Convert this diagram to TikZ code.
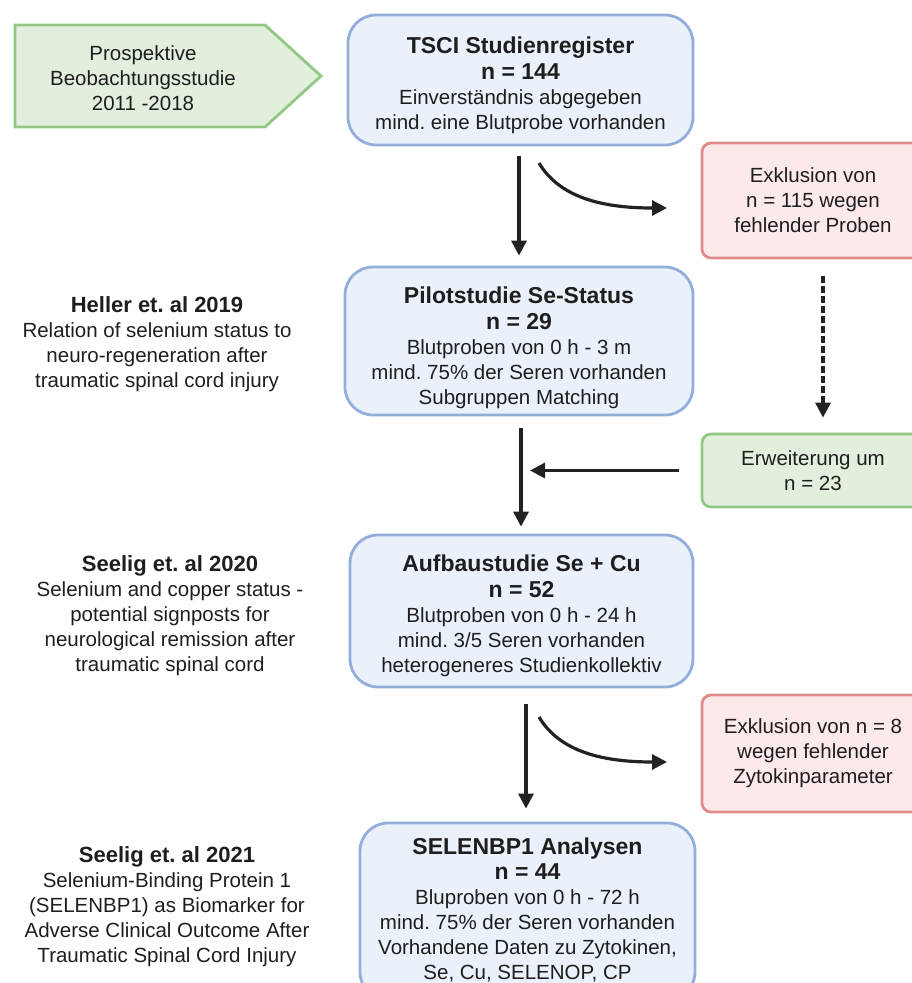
\documentclass[tikz,border=0pt]{standalone}
\usepackage{fontspec}
\setmainfont{Liberation Sans}
\usetikzlibrary{arrows.meta}
\frenchspacing
\definecolor{tc}{HTML}{1E1E1E}
\definecolor{bf}{HTML}{EAF1FB}
\definecolor{bb}{HTML}{94AEDB}
\definecolor{rf}{HTML}{FCE9EA}
\definecolor{rb}{HTML}{E38A8A}
\definecolor{gf}{HTML}{E3EFDD}
\definecolor{gb}{HTML}{93C884}
\definecolor{ac}{HTML}{222222}
\newcommand\Bt[1]{{\fontsize{23}{25}\selectfont\bfseries #1}}
\newcommand\Bl[1]{{\fontsize{22}{25}\selectfont\bfseries #1}}
\tikzset{
  txt/.style={font=\fontsize{20.5}{25}\selectfont\frenchspacing, text=tc, align=center, inner sep=0pt},
  bluebox/.style={draw=bb, fill=bf, line width=2.8pt, rounded corners=28pt},
  redbox/.style={draw=rb, fill=rf, line width=2.8pt, rounded corners=9pt},
  greenbox/.style={draw=gb, fill=gf, line width=2.8pt, rounded corners=9pt},
  arr/.style={draw=ac, line width=3.2pt, -{Triangle[width=15pt,length=15pt]}},
  dotarr/.style={arr, dash pattern=on 6.5pt off 3.5pt},
}
\begin{document}
\begin{tikzpicture}[x=1pt,y=-1pt]
\useasboundingbox (0,0) rectangle (912,983);
\clip (0,0) rectangle (912,983);

% green pentagon
\draw[draw=gb, fill=gf, line width=2.8pt, line join=miter]
  (15,25) -- (265,25) -- (321,76) -- (265,127) -- (15,127) -- cycle;
\node[txt] (prosp) at (143,78) {Prospektive\\Beobachtungsstudie\\2011 -2018};

% main boxes
\node[bluebox, minimum width=345pt, minimum height=130pt] (tsci) at (520.5,80) {};
\node[txt] (tscit) at ([yshift=-5pt]tsci.center)
  {\Bt{TSCI Studienregister}\\[1pt]\Bt{n = 144}\\Einverständnis abgegeben\\mind. eine Blutprobe vorhanden};
\node[bluebox, minimum width=348pt, minimum height=148pt] (pilot) at (519,341) {};
\node[txt] (pilott) at ([yshift=-7pt]pilot.center)
  {\Bt{Pilotstudie Se-Status}\\[1pt]\Bt{n = 29}\\Blutproben von 0 h - 3 m\\mind. 75\% der Seren vorhanden\\Subgruppen Matching};
\node[bluebox, minimum width=343pt, minimum height=152pt] (aufbau) at (521.5,611) {};
\node[txt] (aufbaut) at ([yshift=-5pt]aufbau.center)
  {\Bt{Aufbaustudie Se + Cu}\\[1pt]\Bt{n = 52}\\Blutproben von 0 h - 24 h\\mind. 3/5 Seren vorhanden\\heterogeneres Studienkollektiv};
\node[bluebox, minimum width=335pt, minimum height=177pt] (selen) at (527.5,911.5) {};
\node[txt] (selent) at ([yshift=2pt]selen.center)
  {\Bt{SELENBP1 Analysen}\\[0pt]\Bt{n = 44}\\Bluproben von 0 h - 72 h\\mind. 75\% der Seren vorhanden\\Vorhandene Daten zu Zytokinen,\\Se, Cu, SELENOP, CP};

% side boxes
\node[redbox, txt, minimum width=222pt, minimum height=115pt] (ex1) at (813,200.5)
  {Exklusion von\\n = 115 wegen\\fehlender Proben};
\node[greenbox, txt, minimum width=222pt, minimum height=73pt] (erw) at (813,470.5)
  {Erweiterung um\\n = 23};
\node[redbox, txt, minimum width=222pt, minimum height=117pt] (ex2) at (813,753.5)
  {Exklusion von n = 8\\wegen fehlender\\Zytokinparameter};

% left texts
\node[txt] (heller) at (157,344)
  {\Bl{Heller et. al 2019}\\Relation of selenium status to\\neuro-regeneration after\\traumatic spinal cord injury};
\node[txt] (seelig20) at (170,616)
  {\Bl{Seelig et. al 2020}\\Selenium and copper status -\\potential signposts for\\neurological remission after\\traumatic spinal cord};
\node[txt] (seelig21) at (167,907)
  {\Bl{Seelig et. al 2021}\\Selenium-Binding Protein 1\\(SELENBP1) as Biomarker for\\Adverse Clinical Outcome After\\Traumatic Spinal Cord Injury};

% connectors
\coordinate (c1s) at (539,163);
\coordinate (c1e) at (667,208);
\coordinate (c2s) at (539,717);
\coordinate (c2e) at (667,762);

\draw[arr] ([xshift=-1.5pt,yshift=-10pt]tsci.south) -- ([yshift=10pt]pilot.north);
\draw[arr] (c1s) .. controls (560,198) and (603,208) .. (c1e);
\draw[dotarr] ([xshift=10pt,yshift=-17pt]ex1.south) -- ([xshift=10pt,yshift=15pt]erw.north);
\draw[arr] ([xshift=2pt,yshift=-12pt]pilot.south) -- ([xshift=-0.5pt,yshift=7pt]aufbau.north);
\draw[arr] ([xshift=-22pt]erw.west) -- ([xshift=11pt]erw.west -| pilot.south);
\draw[arr] ([xshift=4.5pt,yshift=-16pt]aufbau.south) -- ([xshift=-1.5pt,yshift=13pt]selen.north);
\draw[arr] (c2s) .. controls (560,752) and (603,762) .. (c2e);
\end{tikzpicture}
\end{document}
